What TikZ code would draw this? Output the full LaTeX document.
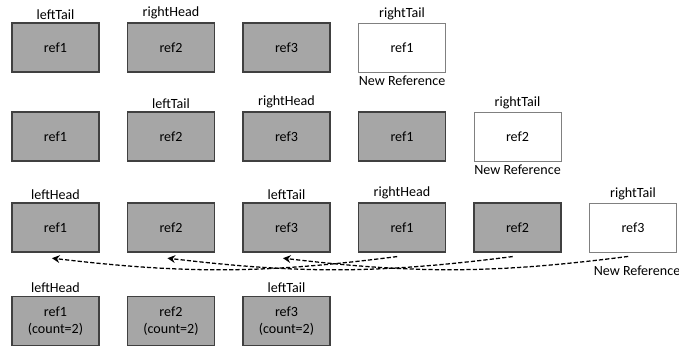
\documentclass[tikz,border=0pt]{standalone}
\usepackage{fontspec}
\setmainfont{Carlito}
\usetikzlibrary{positioning,arrows.meta}

\definecolor{cellgray}{RGB}{166,166,166}
\definecolor{celledge}{RGB}{64,64,64}

\tikzset{
    cell/.style = {
        draw=celledge,
        fill=cellgray,
        line width=0.8pt,
        rectangle,
        minimum width=2.175cm,
        minimum height=1.225cm,
        inner sep=0pt,
        align=center,
        font=\fontsize{10}{12}\selectfont
    },
    newcell/.style = {
        cell,
        draw=gray,
        fill=white,
        line width=0.6pt
    },
    tag/.style = {
        inner sep=1pt,
        font=\fontsize{10}{12}\selectfont
    },
    back/.style = {
        dash pattern=on 3pt off 1.5pt,
        line width=0.9pt,
        -{Stealth[length=5.5pt,width=5.5pt]}
    }
}

\begin{document}
\begin{tikzpicture}
    \useasboundingbox (0,0) rectangle (16.975,-8.675);

    % Row 1
    \node[cell]    (a1) at (1.3875,-1.1875) {ref1};
    \node[cell]    (a2) at (4.275,-1.1875)  {ref2};
    \node[cell]    (a3) at (7.1625,-1.1875) {ref3};
    \node[newcell] (a4) at (10.05,-1.1875)  {ref1};

    \node[tag, above=1pt of a1] (a1tag) {leftTail};
    \node[tag, above=1pt of a2] (a2tag) {rightHead};
    \node[tag, above=1pt of a4] (a4tag) {rightTail};
    \node[tag, below=1pt of a4] (a4new) {New Reference};

    % Row 2
    \node[cell]    (b1) at (1.3875,-3.4125) {ref1};
    \node[cell]    (b2) at (4.275,-3.4125)  {ref2};
    \node[cell]    (b3) at (7.1625,-3.4125) {ref3};
    \node[cell]    (b4) at (10.05,-3.4125)  {ref1};
    \node[newcell] (b5) at (12.9375,-3.4125) {ref2};

    \node[tag, above=1pt of b2] (b2tag) {leftTail};
    \node[tag, above=1pt of b3] (b3tag) {rightHead};
    \node[tag, above=1pt of b5] (b5tag) {rightTail};
    \node[tag, below=1pt of b5] (b5new) {New Reference};

    % Row 3
    \node[cell]    (c1) at (1.3875,-5.6875) {ref1};
    \node[cell]    (c2) at (4.275,-5.6875)  {ref2};
    \node[cell]    (c3) at (7.1625,-5.6875) {ref3};
    \node[cell]    (c4) at (10.05,-5.6875)  {ref1};
    \node[cell]    (c5) at (12.9375,-5.6875) {ref2};
    \node[newcell] (c6) at (15.825,-5.6875) {ref3};

    \node[tag, above=1pt of c1] (c1tag) {leftHead};
    \node[tag, above=1pt of c3] (c3tag) {leftTail};
    \node[tag, above=1pt of c4] (c4tag) {rightHead};
    \node[tag, above=1pt of c6] (c6tag) {rightTail};
    \node[tag, below=8pt of c6.south, xshift=0.1cm] (c6new) {New Reference};

    % Draw arrows
    \draw[back] ([xshift=-0.12cm,yshift=-0.1cm]c4.south) to[bend left=7] ([xshift=-0.09cm,yshift=-0.14cm]c1.south);
    \draw[back] ([xshift=-0.12cm,yshift=-0.1cm]c5.south) to[bend left=7] ([xshift=-0.09cm,yshift=-0.14cm]c2.south);
    \draw[back] ([xshift=-0.12cm,yshift=-0.1cm]c6.south) to[bend left=7] ([xshift=-0.09cm,yshift=-0.14cm]c3.south);

    % Row 4
    \node[cell] (d1) at (1.3875,-8.025) {ref1\\(count=2)};
    \node[cell] (d2) at (4.275,-8.025)  {ref2\\(count=2)};
    \node[cell] (d3) at (7.1625,-8.025) {ref3\\(count=2)};

    \node[tag, above=1pt of d1] (d1tag) {leftHead};
    \node[tag, above=1pt of d3] (d3tag) {leftTail};
\end{tikzpicture}
\end{document}
